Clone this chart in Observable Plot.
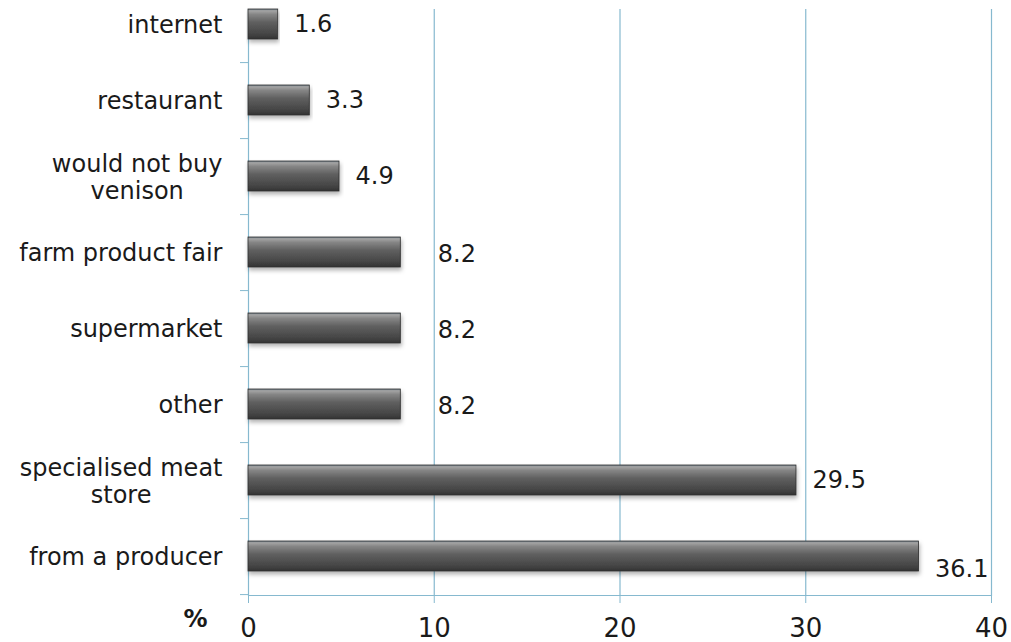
<!DOCTYPE html>
<html>
<head>
<meta charset="utf-8">
<script src="https://cdn.jsdelivr.net/npm/d3@7"></script>
<script src="https://cdn.jsdelivr.net/npm/@observablehq/plot@0.6"></script>
<style>
  html, body { margin: 0; padding: 0; background: #ffffff; }
  #chart { width: 1011px; height: 642px; overflow: hidden; }
  svg { overflow: visible; }
</style>
</head>
<body>
<div id="chart"></div>
<script>
// Categories top to bottom
const categories = [
  "internet",
  "restaurant",
  "would not buy\nvenison",
  "farm product fair",
  "supermarket",
  "other",
  "specialised meat\nstore",
  "from a producer"
];
const values = [1.6, 3.3, 4.9, 8.2, 8.2, 8.2, 29.5, 36.1];
const xTicks = [0, 10, 20, 30, 40];
const axisTitle = "%";

const data = categories.map((c, i) => ({category: c, value: values[i]}));

const FONT = "DejaVu Sans, Verdana, sans-serif";
const gridColor = "#86b9cf";
const textColor = "#1a1a1a";

// label placement groups (as placed in the original chart)
const isWide = d => d.value === 8.2;
const isLast = d => d.value === 36.1;
const isPlain = d => !isWide(d) && !isLast(d);

const labelOpts = {x: "value", y: "category", text: d => d.value.toFixed(1), textAnchor: "start", fill: textColor, fontSize: 24};

const plot = Plot.plot({
  width: 1011,
  height: 642,
  marginLeft: 248,
  marginRight: 20,
  marginTop: 9,
  marginBottom: 47,
  style: {fontFamily: FONT, fontSize: "24px", color: textColor, background: "#ffffff", overflow: "visible"},
  x: {domain: [0, 40]},
  y: {type: "band", domain: categories, range: [-14.4, 595], paddingInner: 0.6, paddingOuter: 0.3},
  marks: [
    Plot.ruleX(xTicks.slice(1), {stroke: gridColor, strokeWidth: 1.2}),
    Plot.ruleX([0], {stroke: gridColor, strokeWidth: 1.2}),
    Plot.frame({anchor: "bottom", stroke: gridColor, strokeWidth: 1.2}),
    Plot.axisX({
      anchor: "bottom", ticks: xTicks, tickSize: 8, tickPadding: 15,
      stroke: gridColor, fill: textColor, fontSize: 26, tickFormat: d => String(d),
      label: null
    }),
    Plot.axisY({
      anchor: "left", tickSize: 8, tickFormat: () => "", stroke: gridColor,
      dy: 38.08, label: null
    }),
    Plot.barX(data, {x: "value", y: "category", fill: "url(#barGrad)", stroke: "#2e2e2e", strokeWidth: 0.8, className: "bars"}),
    Plot.text(data, {...labelOpts, filter: isPlain, dx: 16}),
    Plot.text(data, {...labelOpts, filter: isWide, dx: 37, dy: 2}),
    Plot.text(data, {...labelOpts, filter: isLast, dx: 16, dy: 13}),
    Plot.text(categories, {
      frameAnchor: "left", y: d => d, text: d => d,
      textAnchor: "end", dx: -26, lineHeight: 1.13,
      fill: textColor, fontSize: 24, className: "catlabels"
    }),
    Plot.text([axisTitle], {
      frameAnchor: "bottom-left", text: d => d, dx: -53, dy: 31,
      fontWeight: "bold", fontSize: 24, fill: textColor, textAnchor: "middle"
    })
  ]
});

document.getElementById("chart").appendChild(plot);

// gradient & shadow defs
const svg = d3.select(plot);
const defs = svg.insert("defs", ":first-child");
const g = defs.append("linearGradient").attr("id", "barGrad")
  .attr("x1", 0).attr("y1", 0).attr("x2", 0).attr("y2", 1);
[["0%", "#6f7f86"], ["6%", "#a4a4a4"], ["18%", "#858585"], ["45%", "#5f5f5f"], ["80%", "#474747"], ["100%", "#333333"]]
  .forEach(([o, c]) => g.append("stop").attr("offset", o).attr("stop-color", c));
const f = defs.append("filter").attr("id", "barShadow")
  .attr("x", "-5%").attr("y", "-30%").attr("width", "110%").attr("height", "180%");
f.append("feDropShadow").attr("dx", 1).attr("dy", 3).attr("stdDeviation", 2)
  .attr("flood-color", "#000").attr("flood-opacity", 0.3);
svg.selectAll(".bars rect").attr("filter", "url(#barShadow)");

// center multi-line category labels within their right-aligned block
svg.selectAll(".catlabels text").each(function() {
  const spans = this.querySelectorAll("tspan");
  if (spans.length < 2) return;
  let maxW = 0;
  spans.forEach(s => { maxW = Math.max(maxW, s.getComputedTextLength()); });
  this.setAttribute("text-anchor", "middle");
  const tr = this.getAttribute("transform") || "";
  this.setAttribute("transform", tr + ` translate(${-maxW / 2},0)`);
});
</script>
</body>
</html>
